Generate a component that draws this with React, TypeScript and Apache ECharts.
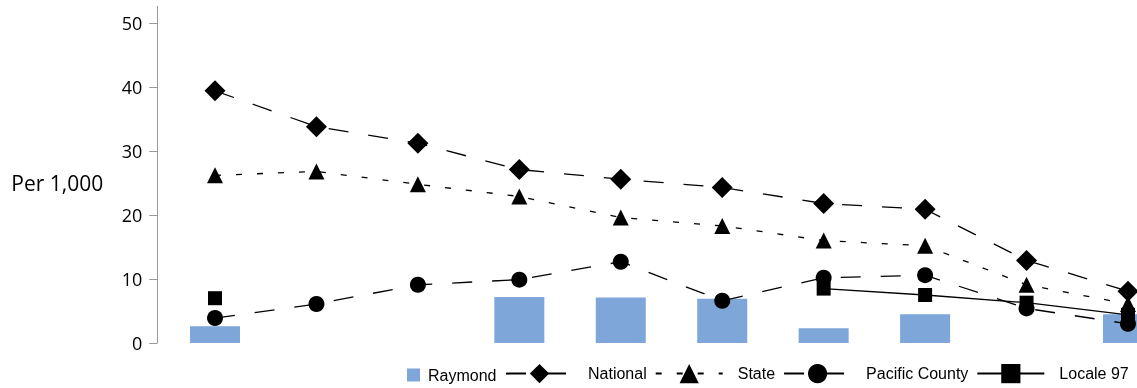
import React, { useEffect, useRef } from "react";
import * as echarts from "echarts";

const categories = ["1", "2", "3", "4", "5", "6", "7", "8", "9", "10"];
const raymond = [2.6, null, null, 7.2, 7.1, 6.9, 2.3, 4.5, null, 4.5];
const national = [39.4, 33.8, 31.2, 27.1, 25.6, 24.3, 21.8, 20.9, 12.9, 8.1];
const state = [26.2, 26.8, 24.8, 22.9, 19.6, 18.3, 16.0, 15.2, 9.1, 6.1];
const pacificCounty = [3.9, 6.1, 9.1, 9.9, 12.7, 6.6, 10.2, 10.6, 5.4, 3.0];
const locale97 = [7.0, null, null, null, null, null, 8.5, 7.5, 6.3, 4.4];
const yTicks = { min: 0, max: 50, interval: 10 };

export default function App() {
  const ref = useRef<HTMLDivElement>(null);
  useEffect(() => {
    if (!ref.current) return;
    const chart = echarts.init(ref.current, null, { renderer: "svg" });
    const axisFont = "'Open Sans', 'Noto Sans', sans-serif";
    const legendFont = "'Liberation Sans', Arial, sans-serif";
    const lineSeries = (name: string, data: any[], symbol: string, size: number, dash: any) => ({
      name,
      type: "line",
      data,
      symbol,
      symbolSize: size,
      showSymbol: true,
      connectNulls: false,
      lineStyle: { color: "#000", width: 1.3, type: dash },
      itemStyle: { color: "#000" },
      z: 3,
    });
    chart.setOption({
      animation: false,
      grid: {
        left: 164.3,
        width: 1014.4,
        top: 23,
        bottom: 45,
        containLabel: false,
        outerBoundsMode: "none",
      },
      xAxis: {
        type: "category",
        data: categories,
        boundaryGap: true,
        axisLine: { show: false },
        axisTick: { show: false },
        axisLabel: { show: false },
        splitLine: { show: false },
      },
      yAxis: {
        type: "value",
        min: yTicks.min,
        max: yTicks.max,
        interval: yTicks.interval,
        offset: 7,
        name: "Per 1,000",
        nameLocation: "middle",
        nameRotate: 0,
        nameGap: 54,
        nameTextStyle: { color: "#000", fontSize: 21, fontFamily: axisFont, align: "right" },
        axisLine: { show: true, lineStyle: { color: "#999", width: 1 } },
        axisTick: { show: true, length: 8, lineStyle: { color: "#999" } },
        axisLabel: { color: "#000", fontSize: 18, fontFamily: axisFont, margin: 15 },
        splitLine: { show: false },
      },
      legend: [
        {
          data: [{ name: "Raymond", icon: "rect" }],
          left: 407,
          top: 367,
          width: 200,
          padding: 0,
          itemWidth: 13,
          itemHeight: 13,
          itemGap: 10,
          textStyle: { color: "#000", fontSize: 16, fontFamily: legendFont, padding: [0, 0, 0, 3] },
        },
        {
          data: ["National", "State", "Pacific County", "Locale 97"],
          left: 505,
          top: 364,
          width: 700,
          padding: 0,
          itemWidth: 67,
          itemHeight: 24,
          itemGap: 8,
          textStyle: { color: "#000", fontSize: 16, fontFamily: legendFont, padding: [0, 0, 0, 10] },
        },
      ],
      graphic: [
        {
          type: "line",
          shape: { x1: 157.5, y1: 6, x2: 157.5, y2: 23 },
          style: { stroke: "#999", lineWidth: 1 },
        },
      ],
      series: [
        {
          name: "Raymond",
          type: "bar",
          data: raymond,
          barWidth: 50,
          itemStyle: { color: "#7EA6D8" },
          z: 1,
        },
        lineSeries("National", national, "diamond", 21, [20, 20]),
        lineSeries("State", state, "triangle", 16, [6, 15]),
        lineSeries("Pacific County", pacificCounty, "circle", 16, [20, 20]),
        lineSeries("Locale 97", locale97, "rect", 14, "solid"),
      ],
    });
    return () => chart.dispose();
  }, []);
  return <div ref={ref} style={{ position: "fixed", left: 0, top: 0, width: 1137, height: 388 }} />;
}
